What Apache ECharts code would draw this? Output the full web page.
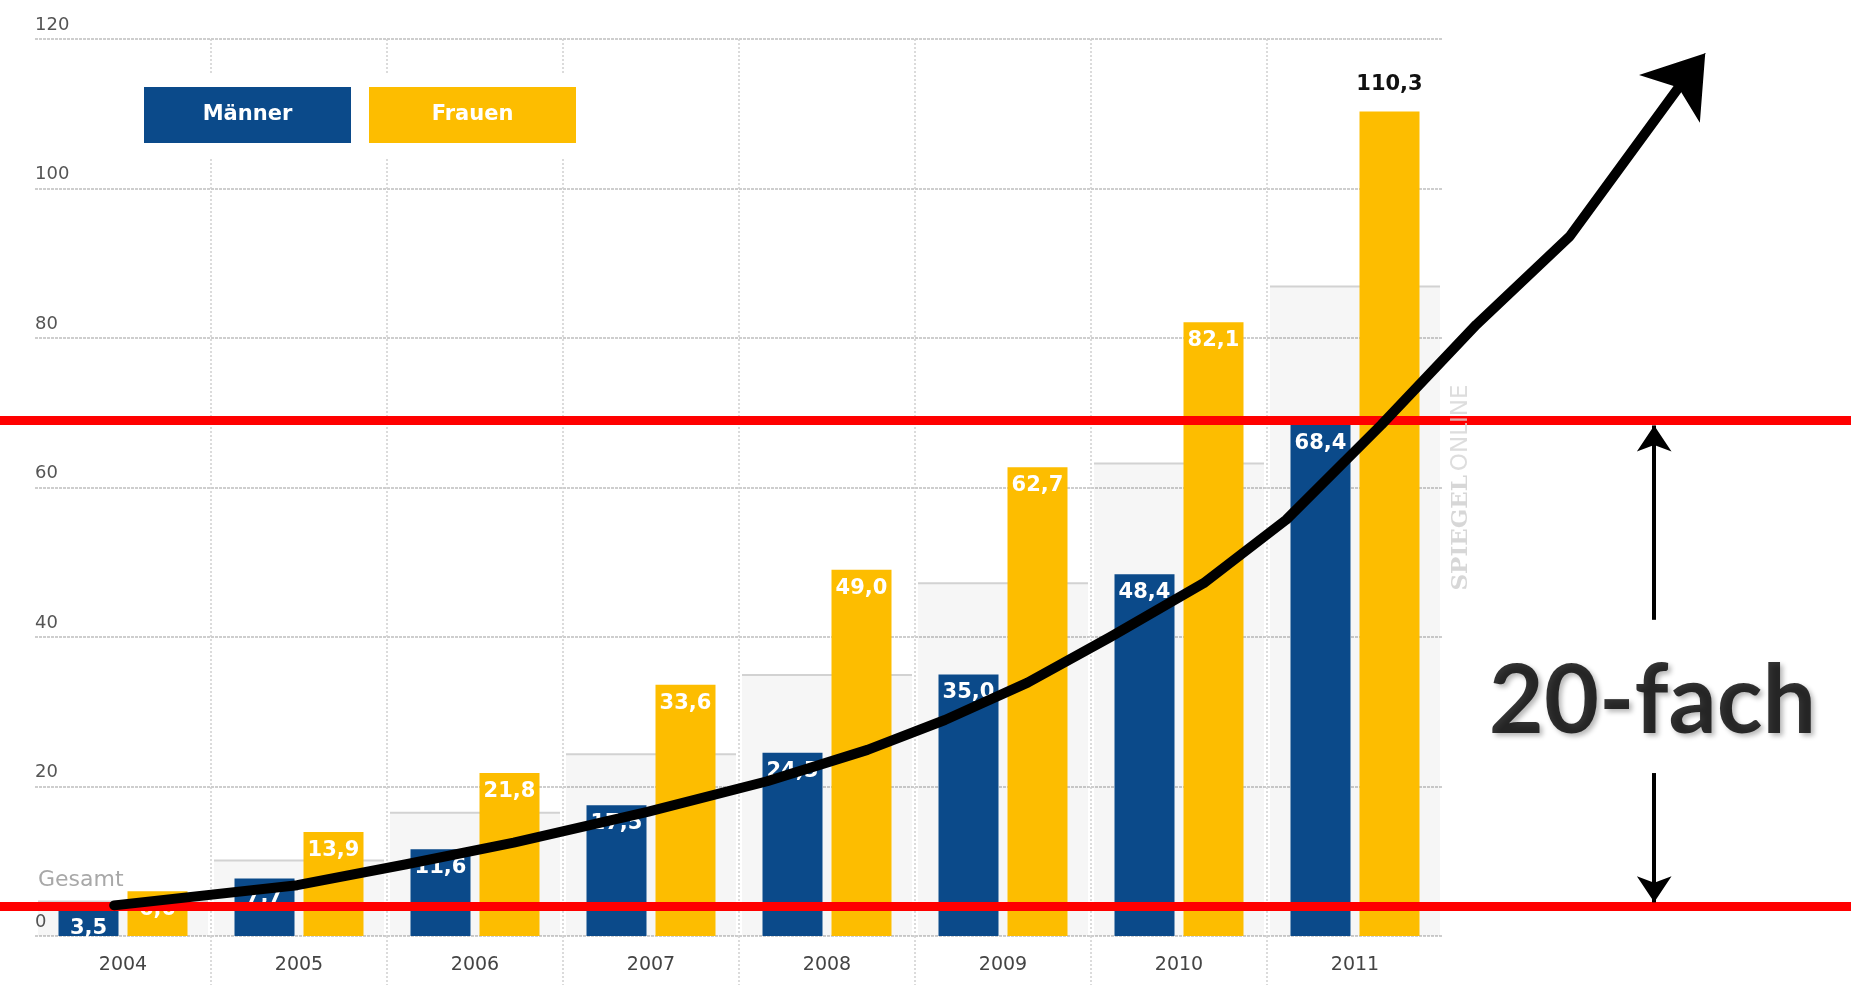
<!DOCTYPE html>
<html><head><meta charset="utf-8">
<script src="https://cdn.jsdelivr.net/npm/echarts@6/dist/echarts.min.js"></script>
<style>html,body{margin:0;padding:0;background:#fff}#c{width:1851px;height:985px}</style>
</head><body><div id="c"></div>
<script>
// ---- data ----
const years = ['2004','2005','2006','2007','2008','2009','2010','2011'];
const maenner = [3.5, 7.7, 11.6, 17.5, 24.5, 35.0, 48.4, 68.4];
const frauen = [6.0, 13.9, 21.8, 33.6, 49.0, 62.7, 82.1, 110.3];
const gesamt = [4.6, 10.1, 16.5, 24.3, 34.9, 47.2, 63.2, 86.9];
const yMin = 0, yMax = 120, yStep = 20;
// annotation (x in category units: 0.5 = centre of 2004, y in axis values)
const trendPath = [[0.45,4.1],[1.49,6.8],[2.11,9.6],[2.72,12.5],[3.48,16.6],[4.16,20.7],[4.73,24.9],[5.17,28.9],[5.64,33.9],[6.11,40.0],[6.64,47.2],[7.11,55.7],[7.65,68.4],[8.19,81.8],[8.72,93.6],[9.36,114.2]];
const arrowTip = [9.49,118.1];
const redLevels = [4.0, 69.0];
const upArrow = [[9.2,42.3],[9.2,68.3]];
const downArrow = [[9.2,21.8],[9.2,4.5]];
const factorLabel = [9.19, 31.3, '20-fach'];
const watermark = [8.10, 60.0];

// ---- layout/style ----
const W = 1851, H = 985, gridLeft = 35, gridRight = 408, gridTop = 39, gridBottom = 49;
const catW = (W - gridLeft - gridRight) / years.length;
const oxMin = -gridLeft / catW, oxMax = (W - gridLeft) / catW;
const BLUE = '#0b4a8a', YELLOW = '#fdbd00', RED = '#ff0000';
const fmt = v => v.toFixed(1).replace('.', ',');
const gridLine = {color:'#bfbfbf', type:[3,1], width:1.5};
const vLine = {color:'#cfcfcf', type:[2,2], width:1.5};
const legendBox = {width:207, height:56, lineHeight:56, align:'center', color:'#fff', fontWeight:'bold', fontSize:21, fontFamily:'DejaVu Sans'};

const chart = echarts.init(document.getElementById('c'), null, {renderer:'canvas'});
chart.setOption({
  backgroundColor:'#fff',
  animation:false,
  textStyle:{fontFamily:'DejaVu Sans'},
  grid:[
    {left:gridLeft, right:gridRight, top:gridTop, bottom:gridBottom},
    {left:0, right:0, top:gridTop, bottom:gridBottom},
    {left:gridLeft, right:gridRight, top:H - gridBottom, bottom:0}
  ],
  legend:{
    left:129, top:73, padding:[14,10], backgroundColor:'#fff',
    itemWidth:0, itemHeight:0, itemGap:13, selectedMode:false, icon:'rect',
    data:['Männer','Frauen'],
    formatter: name => (name === 'Männer' ? '{m|' : '{f|') + name + '}',
    textStyle:{rich:{
      m:Object.assign({backgroundColor:BLUE}, legendBox),
      f:Object.assign({backgroundColor:YELLOW}, legendBox)
    }}
  },
  xAxis:[
    {type:'category', gridIndex:0, data:years,
      axisLine:{show:false}, axisTick:{show:false},
      splitLine:{show:true, showMinLine:false, showMaxLine:false, lineStyle:vLine},
      axisLabel:{color:'#444', fontSize:19, margin:20, fontFamily:'DejaVu Sans'}},
    {type:'value', gridIndex:1, min:oxMin, max:oxMax, show:false},
    {type:'category', gridIndex:2, data:years,
      axisLine:{show:false}, axisTick:{show:false}, axisLabel:{show:false},
      splitLine:{show:true, showMinLine:false, showMaxLine:false, lineStyle:vLine}}
  ],
  yAxis:[
    {type:'value', gridIndex:0, min:yMin, max:yMax, interval:yStep,
      axisLine:{show:false}, axisTick:{show:false},
      axisLabel:{inside:true, margin:0, verticalAlign:'bottom', padding:[0,0,5,0], color:'#555', fontSize:18, fontFamily:'DejaVu Sans'},
      splitLine:{lineStyle:gridLine}},
    {type:'value', gridIndex:1, min:yMin, max:yMax, show:false},
    {type:'value', gridIndex:2, min:0, max:1, show:false}
  ],
  series:[
    {name:'Gesamt', type:'custom', xAxisIndex:0, yAxisIndex:0, z:1,
      data: gesamt.map((v,i)=>[i,v]), encode:{x:0,y:1},
      renderItem:function(params, api){
        const idx = api.value(0), v = api.value(1);
        const top = api.coord([idx, v]), base = api.coord([idx, 0]);
        const w = api.size([1,0])[0] - 6;
        const ch = [
          {type:'rect', shape:{x:top[0]-w/2, y:top[1], width:w, height:base[1]-top[1]}, style:{fill:'rgba(0,0,0,0.035)'}},
          {type:'line', shape:{x1:top[0]-w/2, y1:top[1], x2:top[0]+w/2, y2:top[1]}, style:{stroke:'#d2d2d2', lineWidth:2}}
        ];
        if (idx === 0) ch.push({type:'text', x:top[0]-w/2, y:top[1]-10,
          style:{text:'Gesamt', fill:'#a8a8a8', font:'22px "DejaVu Sans"', textAlign:'left', textVerticalAlign:'bottom'}});
        return {type:'group', children:ch};
      }},
    {name:'Männer', type:'bar', xAxisIndex:0, yAxisIndex:0, z:2, barWidth:60, barGap:'15%',
      itemStyle:{color:BLUE}, data:maenner,
      label:{show:true, position:'insideTop', distance:8, color:'#fff', fontWeight:'bold', fontSize:21, fontFamily:'DejaVu Sans', formatter:p=>fmt(p.value)}},
    {name:'Frauen', type:'bar', xAxisIndex:0, yAxisIndex:0, z:2, barWidth:60,
      itemStyle:{color:YELLOW},
      data: frauen.map((v,i)=> i === frauen.length-1 ? {value:v, label:{position:'top', distance:16, color:'#111'}} : v),
      label:{show:true, position:'insideTop', distance:8, color:'#fff', fontWeight:'bold', fontSize:21, fontFamily:'DejaVu Sans', formatter:p=>fmt(p.value)}},
    {name:'labels', type:'scatter', xAxisIndex:1, yAxisIndex:1, z:5, symbolSize:0, silent:true,
      data:[
        {value:[factorLabel[0], factorLabel[1]], label:{show:true, position:'inside', formatter:factorLabel[2],
          fontFamily:'Lato', fontWeight:'bold', fontSize:95, color:'#000',
          textShadowColor:'rgba(0,0,0,0.35)', textShadowBlur:5, textShadowOffsetX:3, textShadowOffsetY:3}},
        {value:watermark, label:{show:true, position:'inside', rotate:90, formatter:'{a|SPIEGEL} {b|ONLINE}',
          rich:{a:{fontFamily:'DejaVu Serif', fontWeight:'bold', fontSize:23, color:'#cdcdcd'},
                b:{fontFamily:'DejaVu Sans', fontSize:23, color:'#d4d4d4'}}}}
      ],
      markLine:{silent:true, symbol:'none', label:{show:false},
        lineStyle:{color:RED, width:9, type:'solid'},
        data: redLevels.map(v=>({yAxis:v}))}},
    {name:'trend', type:'line', xAxisIndex:1, yAxisIndex:1, z:10, silent:true,
      data:trendPath, symbol:'none', smooth:false,
      lineStyle:{color:'#000', width:10, join:'round', cap:'round'}},
    {name:'trendHead', type:'lines', coordinateSystem:'cartesian2d', xAxisIndex:1, yAxisIndex:1, z:10, silent:true,
      symbol:['none','arrow'], symbolSize:58,
      lineStyle:{color:'#000', width:1, opacity:1},
      data:[{coords:[trendPath[trendPath.length-1], arrowTip]}]},
    {name:'factor', type:'lines', coordinateSystem:'cartesian2d', xAxisIndex:1, yAxisIndex:1, z:10, silent:true,
      symbol:['none','arrow'], symbolSize:26,
      lineStyle:{color:'#000', width:4, opacity:1},
      data:[{coords:upArrow},{coords:downArrow}]}
  ]
});
</script></body></html>
